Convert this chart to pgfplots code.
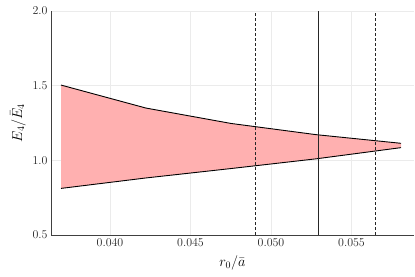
\documentclass[border=0pt]{standalone}
\usepackage{pgfplots}
\pgfplotsset{compat=1.18}
\definecolor{bandfill}{RGB}{255,176,176}
\begin{document}
\begin{tikzpicture}
\useasboundingbox (0,0) rectangle (415bp,277bp);
\begin{axis}[
  at={(51bp,42bp)}, anchor=south west,
  scale only axis, width=363bp, height=224bp,
  xmin=0.036335, xmax=0.058882, ymin=0.5, ymax=2.0,
  axis x line*=bottom, axis y line*=left,
  axis line style={black!75, line width=0.8pt, -},
  xtick={0.040,0.045,0.050,0.055},
  ytick={0.5,1.0,1.5,2.0},
  xticklabel style={/pgf/number format/.cd, fixed, fixed zerofill, precision=3},
  yticklabel style={/pgf/number format/.cd, fixed, fixed zerofill, precision=1},
  scaled x ticks=false,
  tick label style={font=\fontsize{12}{14}\selectfont, text=black!85},
  label style={font=\fontsize{14}{16}\selectfont},
  major tick length=0pt,
  grid=major,
  grid style={black!8, line width=0.5pt},
  xlabel={$r_0/\bar{a}$},
  ylabel={$E_4/\bar{E}_4$},
  xlabel style={yshift=-3pt},
  ylabel style={yshift=0pt},
  clip=false,
]
\addplot[fill=bandfill, draw=none] coordinates {
  (0.036957,1.504) (0.042236,1.350) (0.047516,1.247) (0.052796,1.172) (0.058075,1.114)
  (0.058075,1.085) (0.052796,1.010) (0.047516,0.945) (0.042236,0.882) (0.036957,0.812)
} -- cycle;
\addplot[black, line width=0.9pt] coordinates {
  (0.036957,1.504) (0.042236,1.350) (0.047516,1.247) (0.052796,1.172) (0.058075,1.114)
};
\addplot[black, line width=0.9pt] coordinates {
  (0.036957,0.812) (0.042236,0.882) (0.047516,0.945) (0.052796,1.010) (0.058075,1.085)
};
\addplot[black!85, line width=0.9pt, dash pattern=on 3pt off 2pt] coordinates {(0.049006,0.5) (0.049006,2.0)};
\addplot[black!85, line width=0.9pt] coordinates {(0.052938,0.5) (0.052938,2.0)};
\addplot[black!85, line width=0.9pt, dash pattern=on 3pt off 2pt] coordinates {(0.056478,0.5) (0.056478,2.0)};
\end{axis}
\end{tikzpicture}
\end{document}
